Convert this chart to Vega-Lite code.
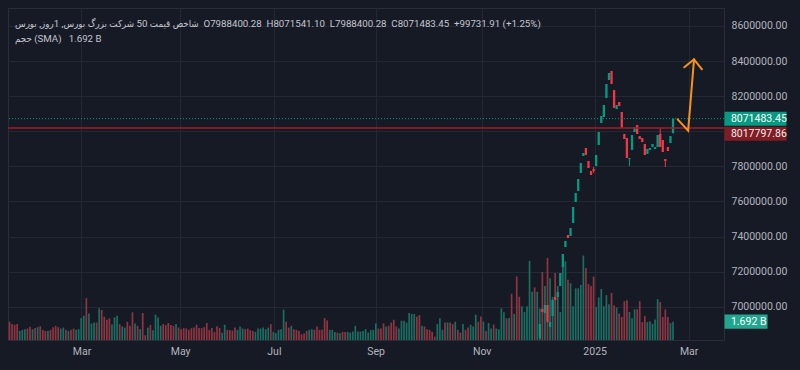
{
  "$schema": "https://vega.github.io/schema/vega-lite/v6.json",
  "width": 716,
  "height": 332,
  "autosize": {"type": "none"},
  "padding": {"left": 8, "top": 8, "right": 76, "bottom": 30},
  "background": "#161a25",
  "config": {
    "font": "Roboto",
    "view": {"stroke": "#2a2e39", "strokeWidth": 1},
    "axis": {"labelFont": "Roboto"}
  },
  "title": {
    "text": "شاخص قیمت 50 شرکت بزرگ بورس, 1روز, بورس\u00a0\u00a0O7988400.28\u00a0\u00a0H8071541.10\u00a0\u00a0L7988400.28\u00a0\u00a0C8071483.45\u00a0\u00a0+99731.91\u00a0(+1.25%)",
    "subtitle": "حجم (SMA)\u00a0\u00a0\u00a01.692 B",
    "anchor": "start",
    "frame": "group",
    "orient": "top",
    "offset": -36,
    "dx": 7,
    "font": "Roboto, DejaVu Sans Condensed, DejaVu Sans",
    "fontSize": 9.7,
    "fontWeight": "normal",
    "color": "#c3c6ce",
    "subtitleFont": "Roboto, DejaVu Sans Condensed, DejaVu Sans",
    "subtitleFontSize": 9.7,
    "subtitleColor": "#c3c6ce",
    "subtitlePadding": 6
  },
  "datasets": {
    "bars": [
      {"i":0,"dir":"down","vol":1.69},{"i":1,"dir":"down","vol":1.47},{"i":2,"dir":"down","vol":1.41},{"i":3,"dir":"down","vol":1.47},
      {"i":4,"dir":"up","vol":0.84},{"i":5,"dir":"up","vol":0.94},{"i":6,"dir":"up","vol":1.0},{"i":7,"dir":"down","vol":1.06},
      {"i":8,"dir":"down","vol":1.22},{"i":9,"dir":"up","vol":1.0},{"i":10,"dir":"down","vol":1.12},{"i":11,"dir":"up","vol":1.19},
      {"i":12,"dir":"down","vol":1.28},{"i":13,"dir":"down","vol":0.94},{"i":14,"dir":"down","vol":0.84},{"i":15,"dir":"up","vol":0.84},
      {"i":16,"dir":"down","vol":0.94},{"i":17,"dir":"down","vol":1.19},{"i":18,"dir":"down","vol":1.31},{"i":19,"dir":"down","vol":1.19},
      {"i":20,"dir":"up","vol":1.06},{"i":21,"dir":"up","vol":1.15},{"i":22,"dir":"down","vol":0.94},{"i":23,"dir":"up","vol":0.84},
      {"i":24,"dir":"down","vol":0.94},{"i":25,"dir":"down","vol":1.06},{"i":26,"dir":"up","vol":0.94},{"i":27,"dir":"up","vol":1.0},
      {"i":28,"dir":"up","vol":2.03},{"i":29,"dir":"up","vol":2.25},{"i":30,"dir":"down","vol":3.87},{"i":31,"dir":"up","vol":2.46},
      {"i":32,"dir":"up","vol":1.53},{"i":33,"dir":"up","vol":1.62},{"i":34,"dir":"down","vol":1.62},{"i":35,"dir":"up","vol":2.93},
      {"i":36,"dir":"down","vol":2.78},{"i":37,"dir":"down","vol":2.16},{"i":38,"dir":"down","vol":1.87},{"i":39,"dir":"down","vol":2.0},
      {"i":40,"dir":"up","vol":1.43},{"i":41,"dir":"up","vol":2.09},{"i":42,"dir":"up","vol":2.25},{"i":43,"dir":"down","vol":1.47},
      {"i":44,"dir":"up","vol":1.25},{"i":45,"dir":"up","vol":1.15},{"i":46,"dir":"down","vol":1.69},{"i":47,"dir":"down","vol":1.31},
      {"i":48,"dir":"down","vol":2.56},{"i":49,"dir":"up","vol":1.53},{"i":50,"dir":"down","vol":1.31},{"i":51,"dir":"up","vol":1.0},
      {"i":52,"dir":"down","vol":2.5},{"i":53,"dir":"down","vol":0.44},{"i":54,"dir":"up","vol":1.15},{"i":55,"dir":"down","vol":1.38},
      {"i":56,"dir":"up","vol":0.91},{"i":57,"dir":"up","vol":2.34},{"i":58,"dir":"up","vol":2.09},{"i":59,"dir":"up","vol":1.31},
      {"i":60,"dir":"down","vol":1.47},{"i":61,"dir":"down","vol":1.38},{"i":62,"dir":"down","vol":1.57},{"i":63,"dir":"down","vol":1.38},
      {"i":64,"dir":"down","vol":1.31},{"i":65,"dir":"up","vol":1.47},{"i":66,"dir":"down","vol":1.15},{"i":67,"dir":"down","vol":1.0},
      {"i":68,"dir":"down","vol":1.1},{"i":69,"dir":"down","vol":1.06},{"i":70,"dir":"down","vol":0.94},{"i":71,"dir":"down","vol":1.1},
      {"i":72,"dir":"down","vol":1.15},{"i":73,"dir":"down","vol":1.41},{"i":74,"dir":"down","vol":1.12},{"i":75,"dir":"down","vol":1.1},
      {"i":76,"dir":"down","vol":1.19},{"i":77,"dir":"down","vol":1.57},{"i":78,"dir":"down","vol":0.94},{"i":79,"dir":"down","vol":1.1},
      {"i":80,"dir":"down","vol":0.75},{"i":81,"dir":"down","vol":1.28},{"i":82,"dir":"down","vol":1.12},{"i":83,"dir":"up","vol":0.68},
      {"i":84,"dir":"up","vol":1.41},{"i":85,"dir":"down","vol":0.94},{"i":86,"dir":"down","vol":0.91},{"i":87,"dir":"down","vol":0.87},
      {"i":88,"dir":"down","vol":1.15},{"i":89,"dir":"up","vol":0.94},{"i":90,"dir":"up","vol":1.25},{"i":91,"dir":"up","vol":1.06},
      {"i":92,"dir":"down","vol":1.0},{"i":93,"dir":"down","vol":1.06},{"i":94,"dir":"down","vol":0.91},{"i":95,"dir":"down","vol":0.84},
      {"i":96,"dir":"up","vol":0.75},{"i":97,"dir":"up","vol":1.06},{"i":98,"dir":"up","vol":1.06},{"i":99,"dir":"up","vol":1.15},
      {"i":100,"dir":"up","vol":1.0},{"i":101,"dir":"up","vol":1.15},{"i":102,"dir":"down","vol":1.47},{"i":103,"dir":"up","vol":0.75},
      {"i":104,"dir":"up","vol":0.63},{"i":105,"dir":"up","vol":0.94},{"i":106,"dir":"up","vol":1.0},{"i":107,"dir":"up","vol":2.81},
      {"i":108,"dir":"down","vol":1.69},{"i":109,"dir":"down","vol":1.15},{"i":110,"dir":"up","vol":1.31},{"i":111,"dir":"down","vol":1.0},
      {"i":112,"dir":"down","vol":0.94},{"i":113,"dir":"down","vol":0.84},{"i":114,"dir":"down","vol":0.53},{"i":115,"dir":"down","vol":0.59},
      {"i":116,"dir":"down","vol":0.84},{"i":117,"dir":"up","vol":0.94},{"i":118,"dir":"up","vol":1.0},{"i":119,"dir":"down","vol":0.94},
      {"i":120,"dir":"down","vol":1.25},{"i":121,"dir":"down","vol":0.94},{"i":122,"dir":"down","vol":0.94},{"i":123,"dir":"down","vol":2.03},
      {"i":124,"dir":"down","vol":1.81},{"i":125,"dir":"up","vol":0.94},{"i":126,"dir":"up","vol":0.94},{"i":127,"dir":"up","vol":0.75},
      {"i":128,"dir":"down","vol":0.68},{"i":129,"dir":"up","vol":0.63},{"i":130,"dir":"down","vol":0.75},{"i":131,"dir":"down","vol":0.75},
      {"i":132,"dir":"up","vol":0.75},{"i":133,"dir":"up","vol":0.68},{"i":134,"dir":"up","vol":0.78},{"i":135,"dir":"up","vol":1.31},
      {"i":136,"dir":"up","vol":0.78},{"i":137,"dir":"up","vol":0.78},{"i":138,"dir":"up","vol":0.84},{"i":139,"dir":"up","vol":1.0},
      {"i":140,"dir":"up","vol":0.68},{"i":141,"dir":"up","vol":0.91},{"i":142,"dir":"up","vol":0.94},{"i":143,"dir":"up","vol":1.53},
      {"i":144,"dir":"down","vol":1.06},{"i":145,"dir":"down","vol":1.06},{"i":146,"dir":"down","vol":1.53},{"i":147,"dir":"up","vol":1.25},
      {"i":148,"dir":"down","vol":1.31},{"i":149,"dir":"down","vol":1.62},{"i":150,"dir":"down","vol":1.87},{"i":151,"dir":"down","vol":1.25},
      {"i":152,"dir":"up","vol":1.06},{"i":153,"dir":"up","vol":1.78},{"i":154,"dir":"up","vol":1.78},{"i":155,"dir":"up","vol":1.62},
      {"i":156,"dir":"up","vol":2.5},{"i":157,"dir":"up","vol":2.41},{"i":158,"dir":"up","vol":2.41},{"i":159,"dir":"down","vol":2.16},
      {"i":160,"dir":"down","vol":2.31},{"i":161,"dir":"up","vol":1.31},{"i":162,"dir":"down","vol":1.25},{"i":163,"dir":"down","vol":1.0},
      {"i":164,"dir":"down","vol":0.94},{"i":165,"dir":"down","vol":0.75},{"i":166,"dir":"down","vol":0.31},{"i":167,"dir":"up","vol":1.47},
      {"i":168,"dir":"up","vol":2.0},{"i":169,"dir":"up","vol":0.94},{"i":170,"dir":"down","vol":1.62},{"i":171,"dir":"up","vol":1.62},
      {"i":172,"dir":"down","vol":1.62},{"i":173,"dir":"down","vol":1.47},{"i":174,"dir":"up","vol":1.69},{"i":175,"dir":"down","vol":0.94},
      {"i":176,"dir":"down","vol":0.68},{"i":177,"dir":"up","vol":1.47},{"i":178,"dir":"down","vol":0.94},{"i":179,"dir":"down","vol":1.15},
      {"i":180,"dir":"up","vol":1.41},{"i":181,"dir":"up","vol":1.25},{"i":182,"dir":"up","vol":2.34},{"i":183,"dir":"down","vol":1.69},
      {"i":184,"dir":"down","vol":2.18},{"i":185,"dir":"up","vol":1.69},{"i":186,"dir":"down","vol":0.84},{"i":187,"dir":"up","vol":1.57},
      {"i":188,"dir":"up","vol":1.06},{"i":189,"dir":"down","vol":1.43},{"i":190,"dir":"up","vol":1.06},{"i":191,"dir":"up","vol":1.0},
      {"i":192,"dir":"up","vol":2.93},{"i":193,"dir":"up","vol":2.56},{"i":194,"dir":"down","vol":2.0},{"i":195,"dir":"up","vol":2.03},
      {"i":196,"dir":"down","vol":4.28},{"i":197,"dir":"up","vol":2.41},{"i":198,"dir":"down","vol":5.88},{"i":199,"dir":"down","vol":4.0},
      {"i":200,"dir":"up","vol":3.12},{"i":201,"dir":"up","vol":2.6},{"i":202,"dir":"up","vol":3.12},{"i":203,"dir":"up","vol":7.31},
      {"i":204,"dir":"up","vol":4.46},{"i":205,"dir":"down","vol":4.87},{"i":206,"dir":"up","vol":4.46},
      {"i":207,"dir":"up","vol":2.91,"open":6818800,"high":6901425,"low":6818800,"close":6901425},
      {"i":208,"dir":"down","vol":6.28,"open":6986895,"high":6986895,"low":6969801,"close":6969801},
      {"i":209,"dir":"up","vol":5.0,"open":6964103,"high":7009687,"low":6964103,"close":7009687},
      {"i":210,"dir":"down","vol":7.59,"open":7009687,"high":7009687,"low":6912821,"close":6912821},
      {"i":211,"dir":"up","vol":5.72,"open":6884331,"high":6912821,"low":6884331,"close":6912821},
      {"i":212,"dir":"up","vol":3.99,"open":6947009,"high":7038177,"low":6947009,"close":7038177},
      {"i":213,"dir":"down","vol":6.19,"open":7055271,"high":7055271,"low":7038177,"close":7038177},
      {"i":214,"dir":"up","vol":5.0,"open":7055271,"high":7083761,"low":7055271,"close":7083761},
      {"i":215,"dir":"up","vol":2.59,"open":7117949,"high":7192023,"low":7117949,"close":7192023},
      {"i":216,"dir":"up","vol":7.12,"open":7226211,"high":7300285,"low":7226211,"close":7300285},
      {"i":217,"dir":"up","vol":7.27,"open":7340171,"high":7374359,"low":7340171,"close":7374359},
      {"i":218,"dir":"down","vol":5.56,"open":7408547,"high":7408547,"low":7391453,"close":7391453},
      {"i":219,"dir":"up","vol":5.25,"open":7402849,"high":7448427,"low":7402849,"close":7448427},
      {"i":220,"dir":"up","vol":3.12,"open":7476917,"high":7568085,"low":7476917,"close":7568085},
      {"i":221,"dir":"up","vol":4.78,"open":7596575,"high":7647857,"low":7596575,"close":7647857},
      {"i":222,"dir":"up","vol":4.78,"open":7659253,"high":7727629,"low":7659253,"close":7727629},
      {"i":223,"dir":"up","vol":5.09,"open":7761817,"high":7818797,"low":7761817,"close":7818797},
      {"i":224,"dir":"up","vol":7.81,"open":7858683,"high":7875777,"low":7858683,"close":7875777},
      {"i":225,"dir":"down","vol":6.65,"open":7904261,"high":7904261,"low":7864381,"close":7864381},
      {"i":226,"dir":"down","vol":5.18,"open":7830193,"high":7830193,"low":7790307,"close":7790307},
      {"i":227,"dir":"down","vol":5.0,"open":7773213,"high":7773213,"low":7750421,"close":7750421},
      {"i":228,"dir":"down","vol":5.87,"open":7784609,"high":7796000,"low":7762000,"close":7773213},
      {"i":229,"dir":"up","vol":3.06,"open":7801703,"high":7864381,"low":7801703,"close":7864381},
      {"i":230,"dir":"up","vol":3.94,"open":7921367,"high":7995441,"low":7921367,"close":7995441},
      {"i":231,"dir":"up","vol":4.71,"open":8046723,"high":8086609,"low":8046723,"close":8086609},
      {"i":232,"dir":"up","vol":3.12,"open":8080911,"high":8149287,"low":8080911,"close":8149287},
      {"i":233,"dir":"up","vol":4.15,"open":8189173,"high":8268945,"low":8189173,"close":8268945},
      {"i":234,"dir":"up","vol":3.31,"open":8291737,"high":8331623,"low":8291737,"close":8331623},
      {"i":235,"dir":"down","vol":4.34,"open":8343019,"high":8343019,"low":8268945,"close":8268945},
      {"i":236,"dir":"down","vol":3.21,"open":8234757,"high":8234757,"low":8132193,"close":8132193},
      {"i":237,"dir":"up","vol":3.0,"open":8126495,"high":8149287,"low":8126495,"close":8149287},
      {"i":238,"dir":"down","vol":2.44,"open":8166381,"high":8166381,"low":8143589,"close":8143589},
      {"i":239,"dir":"down","vol":2.12,"open":8109401,"high":8109401,"low":8018233,"close":8018233},
      {"i":240,"dir":"down","vol":3.59,"open":7984045,"high":7984045,"low":7955555,"close":7955555},
      {"i":241,"dir":"down","vol":3.68,"open":7961253,"high":7961253,"low":7847279,"close":7847279},
      {"i":242,"dir":"up","vol":2.59,"open":7841581,"high":7847279,"low":7801703,"close":7847279},
      {"i":243,"dir":"up","vol":2.02,"open":7892863,"high":7978351,"low":7892863,"close":7978351},
      {"i":244,"dir":"up","vol":2.84,"open":7995441,"high":8023931,"low":7995441,"close":8023931},
      {"i":245,"dir":"down","vol":2.84,"open":8035327,"high":8035327,"low":7984045,"close":7984045},
      {"i":246,"dir":"down","vol":3.59,"open":7972649,"high":7972649,"low":7955555,"close":7955555},
      {"i":247,"dir":"down","vol":1.65,"open":7961253,"high":7961253,"low":7938461,"close":7938461},
      {"i":248,"dir":"down","vol":2.21,"open":7927065,"high":7927065,"low":7864381,"close":7864381},
      {"i":249,"dir":"up","vol":1.65,"open":7870085,"high":7898575,"low":7870085,"close":7898575},
      {"i":250,"dir":"up","vol":1.72,"open":7892863,"high":7904261,"low":7892863,"close":7904261},
      {"i":251,"dir":"up","vol":1.5,"open":7909971,"high":7927065,"low":7909971,"close":7927065},
      {"i":252,"dir":"up","vol":1.9,"open":7898575,"high":7909971,"low":7898575,"close":7909971},
      {"i":253,"dir":"up","vol":3.78,"open":7909971,"high":7978351,"low":7909971,"close":7978351},
      {"i":254,"dir":"down","vol":3.52,"open":7984045,"high":8018233,"low":7909971,"close":7909971},
      {"i":255,"dir":"down","vol":2.12,"open":7949857,"high":7949857,"low":7881481,"close":7881481},
      {"i":256,"dir":"down","vol":2.84,"open":7841581,"high":7841581,"low":7796005,"close":7830193},
      {"i":257,"dir":"down","vol":2.12,"open":7909971,"high":7909971,"low":7887179,"close":7887179},
      {"i":258,"dir":"up","vol":1.56,"open":7932763,"high":7972649,"low":7932763,"close":7972649},
      {"i":259,"dir":"up","vol":1.692,"open":7988400.28,"high":8071541.10,"low":7988400.28,"close":8071483.45}
    ],
    "arrow": [
      {"seg":"a","ord":1,"i":260.8,"p":8067795},
      {"seg":"a","ord":2,"i":264.9,"p":8002839},
      {"seg":"a","ord":3,"i":267.2,"p":8409686},
      {"seg":"b","ord":1,"i":263.4,"p":8364101},
      {"seg":"b","ord":2,"i":267.2,"p":8409686},
      {"seg":"b","ord":3,"i":270.3,"p":8352705}
    ]
  },
  "layer": [
    {
      "data": {"name": "bars"},
      "layer": [
        {
          "mark": {"type": "bar", "orient": "vertical", "size": 1.7},
          "encoding": {
            "x": {
              "field": "i", "type": "quantitative",
              "scale": {"domain": [-0.585, 278.9], "nice": false, "zero": false, "padding": 0},
              "axis": {
                "title": null,
                "values": [28.1, 66.6, 103.2, 142.9, 184.3, 228.4, 265.1],
                "labelExpr": "datum.value < 40 ? 'Mar' : datum.value < 80 ? 'May' : datum.value < 120 ? 'Jul' : datum.value < 160 ? 'Sep' : datum.value < 200 ? 'Nov' : datum.value < 250 ? '2025' : 'Mar'",
                "grid": true, "gridColor": "#242835", "gridWidth": 1,
                "ticks": false, "domain": false,
                "labelColor": "#b2b5be", "labelFontSize": 10.5, "labelPadding": 6,
                "labelFlush": false, "labelOverlap": false
              }
            },
            "y": {
              "field": "vol", "type": "quantitative",
              "scale": {"domain": [0, 30.7], "nice": false, "zero": true},
              "axis": null
            },
            "color": {"condition": {"test": "datum.dir == 'up'", "value": "#1a6e62"}, "value": "#8e3541"}
          }
        },
        {
          "data": {"values": [{"vol": 1.692, "label": "1.692 B"}]},
          "mark": {"type": "point", "shape": "M-1,-0.3326H1V0.3326H-1Z", "size": 1849, "filled": true, "opacity": 1, "color": "#22a68f", "strokeWidth": 0},
          "encoding": {
            "x": {"datum": 287.5, "type": "quantitative"},
            "y": {"field": "vol", "type": "quantitative", "axis": null}
          }
        },
        {
          "data": {"values": [{"vol": 1.692, "label": "1.692 B"}]},
          "mark": {"type": "text", "align": "left", "baseline": "middle", "color": "#ffffff", "fontSize": 10.5, "font": "Roboto"},
          "encoding": {
            "x": {"datum": 281.6, "type": "quantitative"},
            "y": {"field": "vol", "type": "quantitative", "axis": null},
            "text": {"field": "label"}
          }
        }
      ]
    },
    {
      "data": {"name": "bars"},
      "layer": [
        {
          "transform": [{"filter": "isValid(datum.open)"}],
          "mark": {"type": "rule", "strokeWidth": 1},
          "encoding": {
            "x": {"field": "i", "type": "quantitative"},
            "y": {
              "field": "low", "type": "quantitative",
              "scale": {"domain": [6810256, 8702000], "nice": false, "zero": false},
              "axis": {
                "title": null, "orient": "right",
                "values": [7000000, 7200000, 7400000, 7600000, 7800000, 8000000, 8200000, 8400000, 8600000],
                "labelExpr": "datum.value == 8000000 ? '' : format(datum.value, '.2f')",
                "grid": true, "gridColor": "#242835", "gridWidth": 1,
                "ticks": false, "domain": false,
                "labelColor": "#b2b5be", "labelFontSize": 10.5, "labelPadding": 7
              }
            },
            "y2": {"field": "high"},
            "color": {"condition": {"test": "datum.dir == 'up'", "value": "#089981"}, "value": "#f23645"}
          }
        },
        {
          "transform": [{"filter": "isValid(datum.open)"}],
          "mark": {"type": "bar", "orient": "vertical", "size": 2.3},
          "encoding": {
            "x": {"field": "i", "type": "quantitative"},
            "y": {"field": "open", "type": "quantitative"},
            "y2": {"field": "close"},
            "color": {"condition": {"test": "datum.dir == 'up'", "value": "#089981"}, "value": "#f23645"}
          }
        },
        {
          "data": {"values": [{"p": 8017797.86}]},
          "mark": {"type": "rule", "color": "#a11d27", "strokeWidth": 1.5},
          "encoding": {"y": {"field": "p", "type": "quantitative"}}
        },
        {
          "data": {"values": [{"p": 8071483.45}]},
          "mark": {"type": "rule", "color": "#089981", "strokeWidth": 1, "strokeDash": [1, 2]},
          "encoding": {"y": {"field": "p", "type": "quantitative"}}
        },
        {
          "data": {"name": "arrow"},
          "mark": {"type": "line", "color": "#f7931a", "strokeWidth": 2, "strokeCap": "round", "strokeJoin": "miter"},
          "encoding": {
            "x": {"field": "i", "type": "quantitative"},
            "y": {"field": "p", "type": "quantitative"},
            "detail": {"field": "seg"},
            "order": {"field": "ord"}
          }
        },
        {
          "data": {"values": [{"p": 8071483.45, "label": "8071483.45"}]},
          "mark": {"type": "point", "shape": "M-1,-0.2258H1V0.2258H-1Z", "size": 3844, "filled": true, "opacity": 1, "color": "#089981", "strokeWidth": 0},
          "encoding": {
            "x": {"datum": 291.2, "type": "quantitative"},
            "y": {"field": "p", "type": "quantitative"}
          }
        },
        {
          "data": {"values": [{"p": 8071483.45, "label": "8071483.45"}]},
          "mark": {"type": "text", "align": "left", "baseline": "middle", "color": "#ffffff", "fontSize": 10.5, "font": "Roboto"},
          "encoding": {
            "x": {"datum": 281.6, "type": "quantitative"},
            "y": {"field": "p", "type": "quantitative"},
            "text": {"field": "label"}
          }
        },
        {
          "data": {"values": [{"p": 8017797.86, "label": "8017797.86"}]},
          "mark": {"type": "point", "shape": "M-1,-0.2258H1V0.2258H-1Z", "size": 3844, "filled": true, "opacity": 1, "color": "#801c24", "strokeWidth": 0, "yOffset": 5.7},
          "encoding": {
            "x": {"datum": 291.2, "type": "quantitative"},
            "y": {"field": "p", "type": "quantitative"}
          }
        },
        {
          "data": {"values": [{"p": 8017797.86, "label": "8017797.86"}]},
          "mark": {"type": "text", "align": "left", "baseline": "middle", "color": "#eeeeee", "fontSize": 10.5, "font": "Roboto", "yOffset": 5.7},
          "encoding": {
            "x": {"datum": 281.6, "type": "quantitative"},
            "y": {"field": "p", "type": "quantitative"},
            "text": {"field": "label"}
          }
        }
      ]
    }
  ],
  "resolve": {"scale": {"y": "independent"}}
}
